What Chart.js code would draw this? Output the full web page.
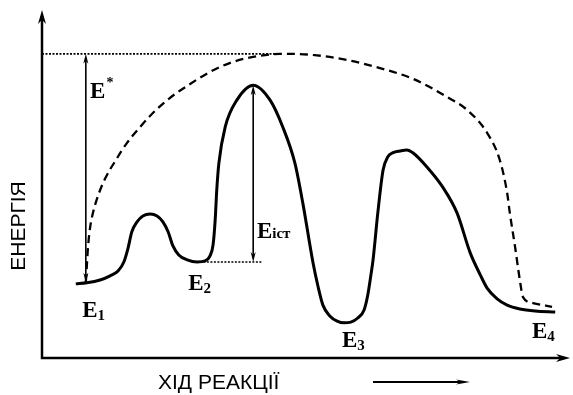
<!DOCTYPE html>
<html>
<head>
<meta charset="utf-8">
<script src="https://cdn.jsdelivr.net/npm/chart.js@4"></script>
<style>
  html, body { margin: 0; padding: 0; background: #fff; }
  canvas { display: block; }
</style>
</head>
<body>
<canvas id="energyChart" width="573" height="395"></canvas>
<script>
// hid reakcii (0..100) and energiia (0..100)
const pathX = [6.4, 8.5, 11.0, 12.9, 14.4, 15.5, 16.3, 17.0, 18.0, 19.1, 20.5, 21.8, 22.9, 23.9, 24.8, 25.9, 27.5, 29.4, 30.9, 31.8,
  32.4, 32.8, 33.1, 33.5, 34.7, 36.9, 40.0, 43.2, 45.6, 47.9, 49.4, 51.3, 52.3, 53.2, 54.5, 55.9, 57.2, 58.5, 59.8, 61.0,
  61.7, 62.3, 62.7, 63.6, 64.6, 65.5, 66.5, 67.8, 69.1, 70.3, 72.9, 75.9, 78.6, 81.1, 83.0, 84.3, 86.2, 88.1, 90.5, 93.4, 97.2];
const pathE = [21.3, 21.6, 22.4, 23.6, 25.0, 27.6, 31.6, 36.2, 39.1, 40.8, 41.4, 40.8, 39.1, 36.2, 32.2, 29.6, 28.2, 27.6, 27.9, 29.3,
  32.5, 39.7, 48.3, 56.0, 66.4, 74.1, 78.4, 74.1, 66.4, 56.0, 44.5, 27.6, 20.4, 15.2, 12.1, 10.6, 10.1, 10.3, 11.5, 13.8,
  18.1, 23.9, 28.2, 41.7, 54.0, 57.8, 59.0, 59.5, 59.8, 58.9, 54.9, 49.1, 41.7, 30.2, 23.9, 20.1, 17.0, 15.2, 14.1, 13.5, 13.2];

// puntirna kryva (bez katalizatora)
const dashX = [8.3, 8.5, 8.7, 9.1, 9.7, 10.8, 12.1, 14.0, 16.1, 18.6, 21.0, 24.2, 27.5, 31.8, 36.2, 40.0, 45.1, 51.3, 57.8, 64.0,
  70.3, 76.7, 80.5, 84.3, 86.7, 88.1, 88.6, 89.6, 90.5, 91.1, 93.0, 96.6];
const dashE = [21.8, 26.7, 31.6, 37.4, 42.0, 47.4, 52.0, 56.9, 61.8, 66.4, 70.4, 74.7, 78.2, 82.2, 85.1, 86.5, 87.4, 87.1, 85.6, 83.3,
  80.2, 75.0, 71.3, 64.7, 56.9, 47.4, 41.7, 31.9, 22.4, 17.5, 15.8, 14.7];

// rivni energii
const levelNames = ['E', 'E', 'E', 'E'];
const levelSubs = ['1', '2', '3', '4'];
const levelLabelX = [7.6, 27.7, 56.8, 92.8];
const levelLabelE = [11.8, 19.5, 3.2, 5.7];

const eStarX = 8.3;       // strilka E*
const eStarTop = 87.4;
const eStarBottom = 21.6;
const eIctX = 40.0;       // strilka E ict
const eIctTop = 78.4;
const eIctBottom = 27.6;
const e2LineFrom = 29.9;

const xyPairs = (xs, ys) => xs.map((x, i) => ({ x: x, y: ys[i] }));

function arrowHead(ctx, x, y, dx, dy, len, half) {
  ctx.beginPath();
  ctx.moveTo(x, y);
  ctx.lineTo(x - dx * len - dy * half, y - dy * len + dx * half);
  ctx.lineTo(x - dx * len * 0.7, y - dy * len * 0.7);
  ctx.lineTo(x - dx * len + dy * half, y - dy * len - dx * half);
  ctx.closePath();
  ctx.fill();
}

const diagramPlugin = {
  id: 'diagram',
  afterDatasetsDraw(chart) {
    const ctx = chart.ctx;
    const area = chart.chartArea;
    const xs = chart.scales.x;
    const ys = chart.scales.y;
    ctx.save();
    ctx.fillStyle = '#000';
    ctx.strokeStyle = '#000';

    // osi
    ctx.lineWidth = 2.5;
    ctx.beginPath();
    ctx.moveTo(area.left, area.top + 6);
    ctx.lineTo(area.left, area.bottom);
    ctx.lineTo(area.right - 6, area.bottom);
    ctx.stroke();
    arrowHead(ctx, area.left, area.top, 0, -1, 14, 4);
    arrowHead(ctx, area.right, area.bottom, 1, 0, 14, 4);

    // strilky energij
    const sx = xs.getPixelForValue(eStarX);
    arrowHead(ctx, sx, ys.getPixelForValue(eStarTop), 0, -1, 10, 2.5);
    arrowHead(ctx, sx, ys.getPixelForValue(eStarBottom), 0, 1, 10, 2.5);
    const ix = xs.getPixelForValue(eIctX);
    arrowHead(ctx, ix, ys.getPixelForValue(eIctTop), 0, -1, 10, 2.5);
    arrowHead(ctx, ix, ys.getPixelForValue(eIctBottom), 0, 1, 10, 2.5);

    // pidpysy E1..E4
    ctx.textBaseline = 'alphabetic';
    ctx.textAlign = 'left';
    levelNames.forEach((name, i) => {
      const px = xs.getPixelForValue(levelLabelX[i]);
      const py = ys.getPixelForValue(levelLabelE[i]);
      ctx.font = 'bold 23px "Liberation Serif"';
      ctx.fillText(name, px, py);
      const w = ctx.measureText(name).width;
      ctx.font = 'bold 15px "Liberation Serif"';
      ctx.fillText(levelSubs[i], px + w, py + 3);
    });

    // E*
    let px = xs.getPixelForValue(9.1);
    let py = ys.getPixelForValue(74.7);
    ctx.font = 'bold 23px "Liberation Serif"';
    ctx.fillText('E', px, py);
    let w = ctx.measureText('E').width;
    ctx.font = 'bold 14px "Liberation Serif"';
    ctx.fillText('*', px + w + 1, py - 11);

    // E ict
    px = xs.getPixelForValue(40.7);
    py = ys.getPixelForValue(34.5);
    ctx.font = 'bold 23px "Liberation Serif"';
    ctx.fillText('E', px, py);
    w = ctx.measureText('E').width;
    ctx.font = 'bold 15px "Liberation Serif"';
    ctx.fillText('іст', px + w, py);

    // nazvy osej
    ctx.font = '21px "Liberation Sans"';
    ctx.fillText('ХІД РЕАКЦІЇ', 158, 389);
    ctx.save();
    ctx.translate(25, 226);
    ctx.rotate(-Math.PI / 2);
    ctx.textAlign = 'center';
    ctx.fillText('ЕНЕРГІЯ', 0, 0);
    ctx.restore();

    ctx.lineWidth = 1.8;
    ctx.beginPath();
    ctx.moveTo(373, 382);
    ctx.lineTo(462, 382);
    ctx.stroke();
    arrowHead(ctx, 470, 382, 1, 0, 14, 2.5);

    ctx.restore();
  }
};

const ctx = document.getElementById('energyChart').getContext('2d');
new Chart(ctx, {
  type: 'scatter',
  data: {
    datasets: [
      {
        data: xyPairs(pathX, pathE),
        showLine: true,
        borderColor: '#000',
        borderWidth: 3,
        cubicInterpolationMode: 'monotone',
      },
      {
        data: xyPairs(dashX, dashE),
        showLine: true,
        borderColor: '#000',
        borderWidth: 2.3,
        borderDash: [8, 5],
        cubicInterpolationMode: 'monotone',
      },
      {
        data: [{ x: 0, y: eStarTop }, { x: 45.1, y: eStarTop }],
        showLine: true,
        borderColor: '#000',
        borderWidth: 1.6,
        borderDash: [2, 1.5],
      },
      {
        data: [{ x: e2LineFrom, y: eIctBottom }, { x: eIctX + 1.6, y: eIctBottom }],
        showLine: true,
        borderColor: '#000',
        borderWidth: 1.6,
        borderDash: [2, 1.5],
      },
      {
        data: [{ x: eStarX, y: eStarTop - 2 }, { x: eStarX, y: eStarBottom + 2 }],
        showLine: true,
        borderColor: '#000',
        borderWidth: 1.6,
      },
      {
        data: [{ x: eIctX, y: eIctTop - 2 }, { x: eIctX, y: eIctBottom + 2 }],
        showLine: true,
        borderColor: '#000',
        borderWidth: 1.6,
      },
    ],
  },
  options: {
    responsive: false,
    animation: false,
    layout: { padding: { left: 42, top: 10, right: 3, bottom: 37 } },
    elements: { point: { radius: 0, hoverRadius: 0 } },
    scales: {
      x: { type: 'linear', min: 0, max: 100, display: false },
      y: { type: 'linear', min: 0, max: 100, display: false },
    },
    plugins: {
      legend: { display: false },
      tooltip: { enabled: false },
    },
  },
  plugins: [diagramPlugin],
});
</script>
</body>
</html>
